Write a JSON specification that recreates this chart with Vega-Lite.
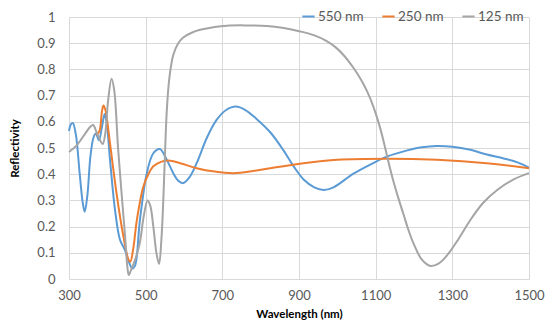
{
  "$schema": "https://vega.github.io/schema/vega-lite/v6.json",
  "autosize": {"type": "none"},
  "width": 460,
  "height": 262,
  "padding": {"left": 69, "top": 17, "right": 16, "bottom": 52},
  "background": "white",
  "config": {
    "view": {"stroke": null},
    "font": "Lato",
    "axis": {"labelFont": "Lato", "titleFont": "Lato", "labelColor": "#595959", "titleColor": "#000000", "gridColor": "#d9d9d9", "gridWidth": 1, "domain": false, "ticks": false, "labelFontSize": 13, "titleFontSize": 11.5, "titleFontWeight": "bold"},
    "legend": {"labelFont": "Lato", "labelColor": "#595959", "labelFontSize": 13.5}
  },
  "datasets": {
    "d": [
      {"s":"550 nm","x":300,"y":0.565},{"s":"550 nm","x":305,"y":0.59},{"s":"550 nm","x":310,"y":0.595},{"s":"550 nm","x":318,"y":0.55},{"s":"550 nm","x":328,"y":0.4},{"s":"550 nm","x":336,"y":0.29},{"s":"550 nm","x":341,"y":0.257},{"s":"550 nm","x":348,"y":0.32},{"s":"550 nm","x":356,"y":0.47},{"s":"550 nm","x":364,"y":0.54},{"s":"550 nm","x":370,"y":0.555},{"s":"550 nm","x":378,"y":0.53},{"s":"550 nm","x":386,"y":0.58},{"s":"550 nm","x":393,"y":0.63},{"s":"550 nm","x":398,"y":0.6},{"s":"550 nm","x":407,"y":0.455},{"s":"550 nm","x":420,"y":0.264},{"s":"550 nm","x":433,"y":0.15},{"s":"550 nm","x":446,"y":0.11},{"s":"550 nm","x":455,"y":0.07},{"s":"550 nm","x":465,"y":0.04},{"s":"550 nm","x":472,"y":0.05},{"s":"550 nm","x":485,"y":0.225},{"s":"550 nm","x":503,"y":0.404},{"s":"550 nm","x":520,"y":0.48},{"s":"550 nm","x":537,"y":0.496},{"s":"550 nm","x":555,"y":0.455},{"s":"550 nm","x":572,"y":0.404},{"s":"550 nm","x":585,"y":0.375},{"s":"550 nm","x":598,"y":0.366},{"s":"550 nm","x":615,"y":0.39},{"s":"550 nm","x":633,"y":0.442},{"s":"550 nm","x":660,"y":0.54},{"s":"550 nm","x":685,"y":0.607},{"s":"550 nm","x":710,"y":0.645},{"s":"550 nm","x":735,"y":0.658},{"s":"550 nm","x":760,"y":0.645},{"s":"550 nm","x":790,"y":0.61},{"s":"550 nm","x":825,"y":0.56},{"s":"550 nm","x":860,"y":0.49},{"s":"550 nm","x":886,"y":0.43},{"s":"550 nm","x":912,"y":0.38},{"s":"550 nm","x":940,"y":0.35},{"s":"550 nm","x":964,"y":0.34},{"s":"550 nm","x":990,"y":0.35},{"s":"550 nm","x":1042,"y":0.402},{"s":"550 nm","x":1090,"y":0.44},{"s":"550 nm","x":1129,"y":0.467},{"s":"550 nm","x":1180,"y":0.49},{"s":"550 nm","x":1220,"y":0.503},{"s":"550 nm","x":1260,"y":0.508},{"s":"550 nm","x":1300,"y":0.505},{"s":"550 nm","x":1347,"y":0.493},{"s":"550 nm","x":1390,"y":0.475},{"s":"550 nm","x":1434,"y":0.46},{"s":"550 nm","x":1470,"y":0.445},{"s":"550 nm","x":1500,"y":0.425},

      {"s":"250 nm","x":370,"y":0.55},{"s":"250 nm","x":379,"y":0.563},{"s":"250 nm","x":386,"y":0.64},{"s":"250 nm","x":390,"y":0.662},{"s":"250 nm","x":395,"y":0.645},{"s":"250 nm","x":400,"y":0.6},{"s":"250 nm","x":407,"y":0.518},{"s":"250 nm","x":424,"y":0.327},{"s":"250 nm","x":442,"y":0.162},{"s":"250 nm","x":455,"y":0.075},{"s":"250 nm","x":460,"y":0.066},{"s":"250 nm","x":468,"y":0.12},{"s":"250 nm","x":477,"y":0.225},{"s":"250 nm","x":494,"y":0.353},{"s":"250 nm","x":507,"y":0.4},{"s":"250 nm","x":520,"y":0.43},{"s":"250 nm","x":540,"y":0.447},{"s":"250 nm","x":560,"y":0.452},{"s":"250 nm","x":590,"y":0.442},{"s":"250 nm","x":633,"y":0.423},{"s":"250 nm","x":680,"y":0.41},{"s":"250 nm","x":729,"y":0.404},{"s":"250 nm","x":780,"y":0.412},{"s":"250 nm","x":825,"y":0.423},{"s":"250 nm","x":912,"y":0.442},{"s":"250 nm","x":1000,"y":0.455},{"s":"250 nm","x":1129,"y":0.459},{"s":"250 nm","x":1260,"y":0.455},{"s":"250 nm","x":1390,"y":0.442},{"s":"250 nm","x":1500,"y":0.423},

      {"s":"125 nm","x":300,"y":0.485},{"s":"125 nm","x":320,"y":0.51},{"s":"125 nm","x":340,"y":0.55},{"s":"125 nm","x":355,"y":0.58},{"s":"125 nm","x":363,"y":0.588},{"s":"125 nm","x":372,"y":0.56},{"s":"125 nm","x":381,"y":0.53},{"s":"125 nm","x":388,"y":0.515},{"s":"125 nm","x":395,"y":0.56},{"s":"125 nm","x":402,"y":0.68},{"s":"125 nm","x":411,"y":0.764},{"s":"125 nm","x":418,"y":0.72},{"s":"125 nm","x":428,"y":0.5},{"s":"125 nm","x":437,"y":0.33},{"s":"125 nm","x":446,"y":0.17},{"s":"125 nm","x":452,"y":0.05},{"s":"125 nm","x":456,"y":0.015},{"s":"125 nm","x":462,"y":0.035},{"s":"125 nm","x":475,"y":0.085},{"s":"125 nm","x":485,"y":0.14},{"s":"125 nm","x":495,"y":0.24},{"s":"125 nm","x":505,"y":0.3},{"s":"125 nm","x":512,"y":0.28},{"s":"125 nm","x":520,"y":0.2},{"s":"125 nm","x":528,"y":0.1},{"s":"125 nm","x":535,"y":0.057},{"s":"125 nm","x":541,"y":0.15},{"s":"125 nm","x":546,"y":0.3},{"s":"125 nm","x":550,"y":0.46},{"s":"125 nm","x":555,"y":0.64},{"s":"125 nm","x":562,"y":0.77},{"s":"125 nm","x":572,"y":0.855},{"s":"125 nm","x":585,"y":0.9},{"s":"125 nm","x":598,"y":0.922},{"s":"125 nm","x":620,"y":0.94},{"s":"125 nm","x":642,"y":0.951},{"s":"125 nm","x":680,"y":0.962},{"s":"125 nm","x":712,"y":0.967},{"s":"125 nm","x":760,"y":0.968},{"s":"125 nm","x":816,"y":0.966},{"s":"125 nm","x":860,"y":0.958},{"s":"125 nm","x":903,"y":0.945},{"s":"125 nm","x":940,"y":0.93},{"s":"125 nm","x":970,"y":0.91},{"s":"125 nm","x":995,"y":0.885},{"s":"125 nm","x":1016,"y":0.855},{"s":"125 nm","x":1040,"y":0.81},{"s":"125 nm","x":1060,"y":0.765},{"s":"125 nm","x":1078,"y":0.715},{"s":"125 nm","x":1094,"y":0.658},{"s":"125 nm","x":1108,"y":0.595},{"s":"125 nm","x":1120,"y":0.53},{"s":"125 nm","x":1132,"y":0.455},{"s":"125 nm","x":1145,"y":0.38},{"s":"125 nm","x":1160,"y":0.305},{"s":"125 nm","x":1173,"y":0.245},{"s":"125 nm","x":1186,"y":0.185},{"s":"125 nm","x":1199,"y":0.135},{"s":"125 nm","x":1220,"y":0.075},{"s":"125 nm","x":1243,"y":0.05},{"s":"125 nm","x":1265,"y":0.06},{"s":"125 nm","x":1286,"y":0.09},{"s":"125 nm","x":1315,"y":0.15},{"s":"125 nm","x":1347,"y":0.225},{"s":"125 nm","x":1380,"y":0.29},{"s":"125 nm","x":1417,"y":0.34},{"s":"125 nm","x":1460,"y":0.38},{"s":"125 nm","x":1500,"y":0.404}
    ]
  },
  "data": {"name": "d"},
  "mark": {"type": "line", "interpolate": "catmull-rom", "strokeWidth": 2},
  "encoding": {
    "x": {"field": "x", "type": "quantitative", "title": "Wavelength (nm)", "scale": {"domain": [300, 1500], "nice": false}, "axis": {"values": [300,500,700,900,1100,1300,1500], "format": "d", "labelPadding": 10, "titlePadding": 6, "labelFlush": false}},
    "y": {"field": "y", "type": "quantitative", "title": "Reflectivity", "scale": {"domain": [0, 1], "nice": false}, "axis": {"values": [0,0.1,0.2,0.3,0.4,0.5,0.6,0.7,0.8,0.9,1], "format": "~g", "labelPadding": 14, "titlePadding": 16}},
    "color": {"field": "s", "type": "nominal", "title": null, "scale": {"domain": ["550 nm", "250 nm", "125 nm"], "range": ["#5b9bd5", "#ed7d31", "#a5a5a5"]}, "legend": {"orient": "none", "direction": "horizontal", "legendX": 232, "legendY": -8, "symbolType": "stroke", "symbolStrokeWidth": 2, "symbolSize": 150, "columnPadding": 14, "labelOffset": 2}},
    "order": {"field": "x", "type": "quantitative"}
  }
}
